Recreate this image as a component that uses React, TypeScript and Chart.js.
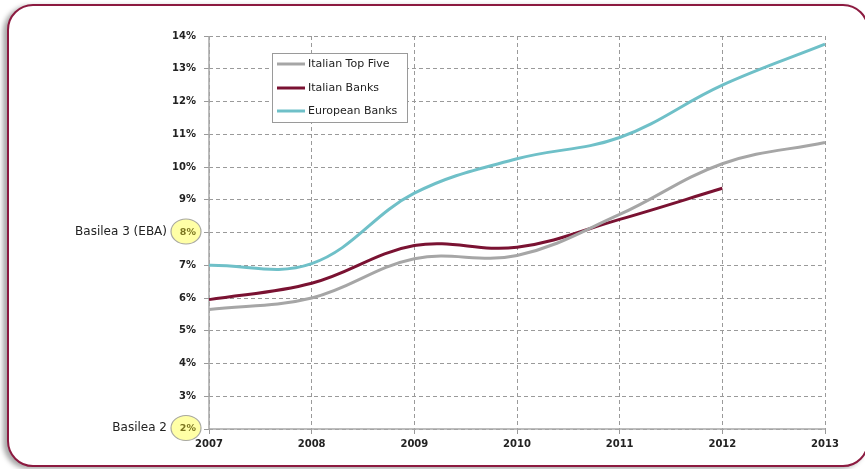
import React, { useEffect, useRef } from "react";
import { Chart, registerables } from "chart.js";

Chart.register(...registerables);

const years = ["2007", "2008", "2009", "2010", "2011", "2012", "2013"];
const italianTopFive = [5.65, 6.0, 7.2, 7.3, 8.55, 10.1, 10.75];
const italianBanks = [5.95, 6.45, 7.6, 7.55, 8.4, 9.35, null];
const europeanBanks = [7.0, 7.05, 9.2, 10.25, 10.9, 12.5, 13.75];
const seriesNames = ["Italian Top Five", "Italian Banks", "European Banks"];
const seriesColors = ["#a6a6a6", "#7a1232", "#6fc0c8"];
const highlightTicks = [8, 2];
const highlightLabels = ["Basilea 3 (EBA)", "Basilea 2"];

const FONT = "'DejaVu Sans', Verdana, sans-serif";

const basileaPlugin = {
  id: "basilea",
  beforeDraw(chart: any) {
    const ctx = chart.ctx;
    const y = chart.scales.y;
    const cx = chart.chartArea.left - 23;
    highlightTicks.forEach((v) => {
      const py = y.getPixelForValue(v);
      ctx.save();
      ctx.beginPath();
      ctx.ellipse(cx, py - 1, 15, 12.5, 0, 0, Math.PI * 2);
      ctx.fillStyle = "#ffffa6";
      ctx.fill();
      ctx.lineWidth = 1.2;
      ctx.strokeStyle = "#a8a8a0";
      ctx.stroke();
      ctx.restore();
    });
  },
  beforeDatasetsDraw(chart: any) {
    const ctx = chart.ctx;
    const a = chart.chartArea;
    ctx.save();
    ctx.strokeStyle = "#a8a8a8";
    ctx.lineWidth = 1.5;
    ctx.setLineDash([]);
    ctx.beginPath();
    ctx.moveTo(a.left, a.top);
    ctx.lineTo(a.left, a.bottom);
    ctx.lineTo(a.right, a.bottom);
    ctx.stroke();
    ctx.restore();
  },
  afterDraw(chart: any) {
    const ctx = chart.ctx;
    const y = chart.scales.y;
    const left = chart.chartArea.left;
    highlightTicks.forEach((v, i) => {
      const py = y.getPixelForValue(v);
      ctx.save();
      ctx.font = `12px ${FONT}`;
      ctx.fillStyle = "#222";
      ctx.textAlign = "right";
      ctx.textBaseline = "middle";
      ctx.fillText(highlightLabels[i], left - 42, py - 1);
      ctx.restore();
    });
    // legend
    const bx = 272, by = 53, bw = 135, bh = 69;
    ctx.save();
    ctx.fillStyle = "#ffffff";
    ctx.fillRect(bx, by, bw, bh);
    ctx.strokeStyle = "#9a9a9a";
    ctx.lineWidth = 1;
    ctx.strokeRect(bx + 0.5, by + 0.5, bw, bh);
    const rows = [64, 88, 111];
    seriesNames.forEach((name, i) => {
      ctx.strokeStyle = seriesColors[i];
      ctx.lineWidth = 3;
      ctx.beginPath();
      ctx.moveTo(277, rows[i]);
      ctx.lineTo(305, rows[i]);
      ctx.stroke();
      ctx.font = `11px ${FONT}`;
      ctx.fillStyle = "#222";
      ctx.textAlign = "left";
      ctx.textBaseline = "middle";
      ctx.fillText(name, 308, rows[i]);
    });
    ctx.restore();
  },
};

export default function App() {
  const ref = useRef<HTMLCanvasElement>(null);
  useEffect(() => {
    const data = [italianTopFive, italianBanks, europeanBanks];
    const chart = new Chart(ref.current as HTMLCanvasElement, {
      type: "line",
      data: {
        labels: years,
        datasets: seriesNames.map((n, i) => ({
          label: n,
          data: data[i],
          borderColor: seriesColors[i],
          backgroundColor: seriesColors[i],
          borderWidth: 3,
          pointRadius: 0,
          tension: 0.38,
          fill: false,
        })) as any,
      },
      options: {
        responsive: false,
        animation: false,
        layout: { padding: { left: 0, top: 36, right: 40, bottom: 0 } },
        plugins: { legend: { display: false }, tooltip: { enabled: false } },
        scales: {
          x: {
            offset: false,
            afterFit(s: any) {
              s.height = 40;
            },
            grid: {
              color: "#9a9a9a",
              lineWidth: 1,
              tickLength: 5,
            },
            border: { display: false, dash: [4, 3] },
            ticks: {
              color: "#222",
              font: { family: FONT, size: 10, weight: "bold" },
              padding: 4,
              maxRotation: 0,
            },
          },
          y: {
            min: 2,
            max: 14,
            afterFit(s: any) {
              s.width = 209;
            },
            grid: {
              color: "#9a9a9a",
              lineWidth: 1,
              tickLength: 5,
            },
            border: { display: false, dash: [4, 3] },
            ticks: {
              stepSize: 1,
              padding: 8,
              callback: (v: any) => v + "%",
              color: (c: any) =>
                highlightTicks.includes(c.tick?.value) ? "#7c7620" : "#222",
              font: (c: any) => ({
                family: FONT,
                size: highlightTicks.includes(c.tick?.value) ? 9.5 : 10,
                weight: "bold",
              }),
            },
          },
        },
      } as any,
      plugins: [basileaPlugin],
    });
    return () => chart.destroy();
  }, []);

  return (
    <div style={{ position: "fixed", left: 0, top: 0, width: 865, height: 469, background: "#fff", overflow: "hidden" }}>
      <div
        style={{
          position: "absolute",
          left: 7,
          top: 4,
          width: 858,
          height: 459,
          border: "2px solid #8c1a40",
          borderRadius: 26,
          boxShadow: "-4px 2px 5px rgba(0,0,0,0.35)",
          background: "#fff",
        }}
      />
      <canvas ref={ref} width={865} height={469} style={{ position: "absolute", left: 0, top: 0 }} />
    </div>
  );
}
